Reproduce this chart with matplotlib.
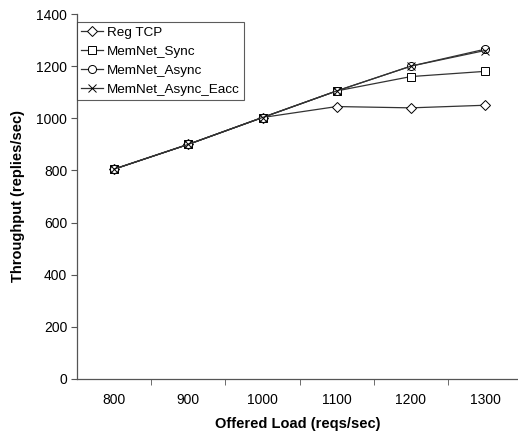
import numpy as np
import matplotlib.pyplot as plt
from matplotlib.ticker import FixedLocator

plt.rcParams['font.family'] = ['Liberation Sans', 'DejaVu Sans']

# data
loads = ['800', '900', '1000', '1100', '1200', '1300']
reg_tcp = [805, 900, 1003, 1045, 1040, 1050]
memnet_sync = [805, 900, 1003, 1105, 1160, 1180]
memnet_async = [805, 900, 1003, 1105, 1200, 1265]
memnet_async_eacc = [805, 900, 1003, 1105, 1200, 1260]
yticks = [0, 200, 400, 600, 800, 1000, 1200, 1400]

fig = plt.figure(figsize=(5.18, 4.33), dpi=100)
ax = fig.add_axes([77/518, 1 - 379/433, 441/518, 365/433])

x = np.arange(len(loads))
lc = '#333333'
ax.plot(x, reg_tcp, color=lc, lw=0.9, marker='D', ms=4.8, mfc='white', mec='black', mew=0.7, label='Reg TCP')
ax.plot(x, memnet_sync, color=lc, lw=0.9, marker='s', ms=5.5, mfc='white', mec='black', mew=0.7, label='MemNet_Sync')
ax.plot(x, memnet_async, color=lc, lw=0.9, marker='o', ms=5.8, mfc='white', mec='black', mew=0.7, label='MemNet_Async')
ax.plot(x, memnet_async_eacc, color=lc, lw=0.9, marker='x', ms=5.5, mec='black', mew=0.7, label='MemNet_Async_Eacc')

ax.set_xlim(-0.5, -0.5 + 441/74.2)
ax.set_ylim(0, 1400)
ax.set_yticks(yticks)
ax.set_xticks(x)
ax.set_xticklabels(loads)
ax.xaxis.set_minor_locator(FixedLocator(x[:-1] + 0.5))
ax.tick_params(axis='x', which='major', length=0, pad=10, labelsize=10)
ax.tick_params(axis='x', which='minor', length=4, direction='out', color='#555555')
ax.tick_params(axis='y', length=4, direction='out', pad=3, labelsize=10, color='#555555')

for s in ['top', 'right']:
    ax.spines[s].set_visible(False)
for s in ['left', 'bottom']:
    ax.spines[s].set_color('#555555')
    ax.spines[s].set_linewidth(0.9)

ax.set_xlabel('Offered Load (reqs/sec)', fontsize=10.5, fontweight='bold', labelpad=7)
ax.set_ylabel('Throughput (replies/sec)', fontsize=10.5, fontweight='bold', labelpad=8)

leg = ax.legend(loc='upper left', bbox_to_anchor=(0.0, 0.978), fontsize=9.7, frameon=True,
                fancybox=False, borderaxespad=0, handlelength=1.6, handletextpad=0.35,
                borderpad=0.3, labelspacing=0.5)
leg.get_frame().set_edgecolor('#333333')
leg.get_frame().set_linewidth(0.8)

fig.savefig('out.png', dpi=100)
